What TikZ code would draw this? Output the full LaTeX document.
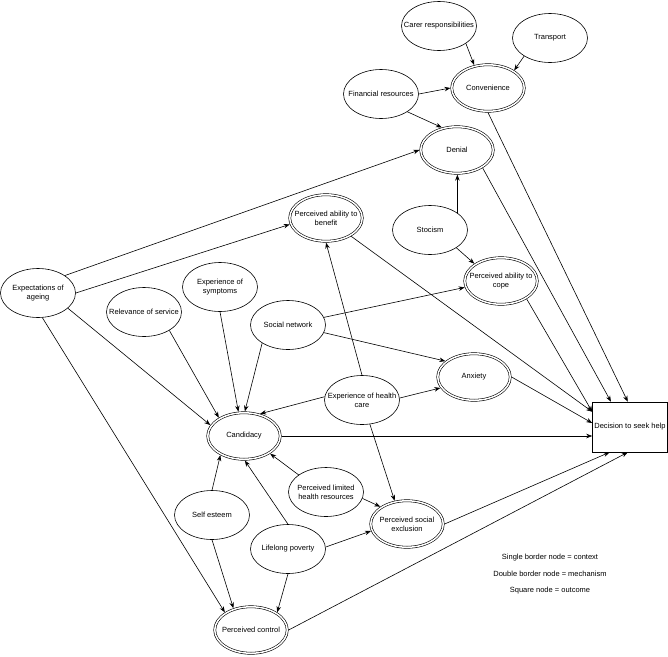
\documentclass[tikz,border=0pt]{standalone}
\usepackage{fontspec}
\setmainfont{Liberation Sans}
\usetikzlibrary{shapes.geometric,arrows.meta}

\begin{document}
\begin{tikzpicture}[x=1pt,y=-1pt,line width=0.6pt,>={Stealth[length=6pt,width=4.5pt]},
  font=\fontsize{7.5}{9}\selectfont,
  ctx/.style={ellipse,draw,minimum width=75pt,minimum height=49pt,inner xsep=-10pt,inner ysep=0pt,align=center},
  mech/.style={ctx,double,double distance=1.5pt,minimum width=72.5pt,minimum height=46.5pt,outer sep=1.35pt},
  outc/.style={rectangle,draw,minimum width=75pt,minimum height=50pt,inner sep=0pt},
  lgd/.style={inner sep=0pt}]
  \useasboundingbox (0,0) rectangle (668,656);
  % context and mechanism nodes
  \node[ctx] (carer) at (439,26) {Carer responsibilities};
  \node[ctx] (transport) at (550,38) {Transport};
  \node[mech] (conv) at (488,88) {Convenience};
  \node[ctx] (finres) at (381,94) {Financial resources};
  \node[mech] (denial) at (457,150) {Denial};
  \node[mech] (benefit) at (326,218) {Perceived ability to\\benefit};
  \node[ctx] (stocism) at (430,230) {Stocism};
  \node[mech] (cope) at (501,281) {Perceived ability to\\cope};
  \node[ctx] (expect) at (38,293) {Expectations of\\ageing};
  \node[ctx] (symptoms) at (220,287) {Experience of\\symptoms};
  \node[ctx] (relevance) at (144,312) {Relevance of service};
  \node[ctx] (social) at (288,325) {Social network};
  \node[mech] (anxiety) at (474,377) {Anxiety};
  \node[ctx] (health) at (362,400) {Experience of health\\care};
  \node[mech] (cand) at (244,436) {Candidacy};
  \node[ctx] (limited) at (326,492) {Perceived limited\\health resources};
  \node[ctx] (selfest) at (212,515) {Self esteem};
  \node[mech] (exclusion) at (407,524) {Perceived social\\exclusion};
  \node[ctx] (poverty) at (288,549) {Lifelong poverty};
  \node[mech] (control) at (251,630) {Perceived control};
  % outcome
  \node[outc] (decision) at (630,427) {Decision to seek help};
  % legend
  \node[lgd] (leg1) at (550,558) {Single border node = context};
  \node[lgd] (leg2) at (550,574) {Double border node = mechanism};
  \node[lgd] (leg3) at (550,591) {Square node = outcome};
  % connectors
  \draw[->] (carer.-33) -- (conv.121);
  \draw[->] (transport.215) -- (conv.34);
  \draw[->] (finres.east) -- (conv.west);
  \draw[->] (finres.-34) -- (denial.124);
  \draw[->] (conv.south) -- (decision.95);
  \draw[->] (denial.-35) -- (decision.127);
  \draw[->] (stocism.32) -- (stocism.32 |- denial.south);
  \draw[->] (stocism.-34) -- (cope.147);
  \draw[->] (expect.33) -- (denial.west);
  \draw[->] (expect.east) -- (benefit.190);
  \draw[->] (expect.-27) -- (cand.162);
  \draw[->] (expect.-80) -- (control.146);
  \draw[->] (relevance.-36) -- (cand.144);
  \draw[->] (symptoms.south) -- (cand.103);
  \draw[->] (social.215) -- (cand.88);
  \draw[->] (social.12) -- (cope.190);
  \draw[->] (social.-12) -- (anxiety.151);
  \draw[->] (health.175) -- (cand.54);
  \draw[->] (health.north) -- (benefit.south);
  \draw[->] (health.3) -- (anxiety.198);
  \draw[->] (health.-72) -- (exclusion.118);
  \draw[->] (benefit.-36) -- (decision.158);
  \draw[->] (cope.-35) -- (decision.158);
  \draw[->] (anxiety.east) -- (decision.174);
  \draw[->] (cand.east) -- (cand.east -| decision.west);
  \draw[->] (limited.148) -- (cand.-34);
  \draw[->] (limited.-10) -- (exclusion.147);
  \draw[->] (selfest.north) -- (cand.219);
  \draw[->] (selfest.south) -- (control.129);
  \draw[->] (poverty.north) -- (cand.-88);
  \draw[->] (poverty.3) -- (exclusion.191);
  \draw[->] (poverty.south) -- (control.34);
  \draw[->] (exclusion.east) -- (decision.231);
  \draw[->] (control.east) -- (decision.265);
\end{tikzpicture}
\end{document}
